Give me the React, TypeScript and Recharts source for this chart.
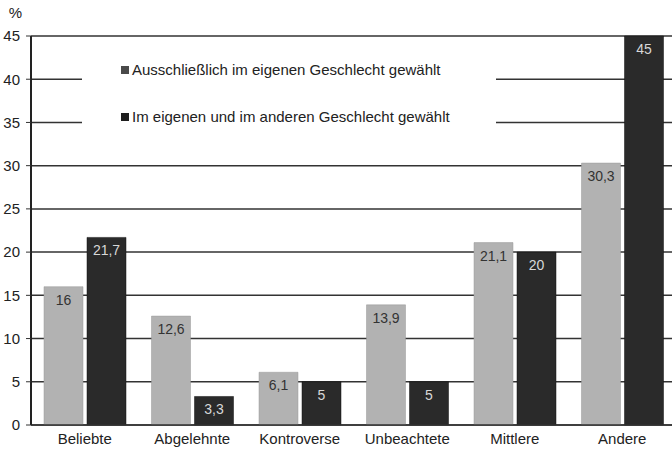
import React from 'react';
import { BarChart, Bar, XAxis, YAxis, CartesianGrid, Legend, LabelList } from 'recharts';

const categories = ['Beliebte', 'Abgelehnte', 'Kontroverse', 'Unbeachtete', 'Mittlere', 'Andere'];
const ausschliesslich = [16, 12.6, 6.1, 13.9, 21.1, 30.3];
const beide = [21.7, 3.3, 5, 5, 20, 45];
const yTicks = [0, 5, 10, 15, 20, 25, 30, 35, 40, 45];
const boundaryTicks = [1, 2, 3, 4, 5];
const seriesNames = ['Ausschließlich im eigenen Geschlecht gewählt', 'Im eigenen und im anderen Geschlecht gewählt'];

const data = categories.map((c, i) => ({ name: c, pos: i + 0.5, a: ausschliesslich[i], b: beide[i] }));

const FONT = '"Liberation Sans", Arial, Helvetica, sans-serif';
const LIGHT = '#b2b2b2';
const DARK = '#2a2a2a';
const fmt = (v: any) => String(v).replace('.', ',');

const LegendBox = () => (
  <div style={{ position: 'relative', width: 414, height: 108, background: '#fff', fontFamily: FONT, fontSize: 15, color: '#222' }}>
    {seriesNames.map((n, i) => (
      <div key={n} style={{ position: 'absolute', left: 39, top: 16 + i * 47, display: 'flex', alignItems: 'center', whiteSpace: 'nowrap' }}>
        <span style={{ display: 'inline-block', width: 8, height: 8, background: i === 0 ? '#4a4a4a' : '#1e1e1e', marginRight: 3 }} />
        <span>{n}</span>
      </div>
    ))}
  </div>
);

export default function App() {
  return (
    <div style={{ position: 'absolute', left: 0, top: 0, width: 672, height: 452, overflow: 'hidden', background: '#fff' }}>
      <BarChart width={680} height={452} data={data} margin={{ top: 36, right: 4, bottom: 0, left: 0 }} barGap={4} barSize={39}>
        <CartesianGrid vertical={false} stroke="#333" strokeWidth={1.5} horizontalValues={yTicks} />
        <XAxis xAxisId="t" type="number" dataKey="pos" domain={[0, 6]} ticks={boundaryTicks} height={0} axisLine={false} tick={false} tickLine={{ stroke: '#333' }} tickSize={4} allowDataOverflow />
        <XAxis xAxisId="c" dataKey="name" height={27} axisLine={{ stroke: '#333', strokeWidth: 1.5 }} tickLine={false} tickSize={0} tickMargin={8} tick={{ fill: '#222', fontSize: 15, fontFamily: FONT }} interval={0} />
        <YAxis width={31} domain={[0, 45]} ticks={yTicks} interval={0} axisLine={{ stroke: '#222', strokeWidth: 2 }} tickLine={{ stroke: '#333' }} tickSize={5} tickMargin={6} tick={{ fill: '#222', fontSize: 15, fontFamily: FONT }} label={{ value: '%', position: 'top', offset: 18, fill: '#222', fontSize: 15, fontFamily: FONT }} />
        <Legend layout="vertical" align="center" verticalAlign="middle" content={<LegendBox />} wrapperStyle={{ left: 82, top: 45, width: 414, height: 108 }} />
        <Bar xAxisId="c" dataKey="a" name={seriesNames[0]} fill={LIGHT} stroke="#999" strokeWidth={0.5} isAnimationActive={false}>
          <LabelList dataKey="a" position="insideTop" offset={8} formatter={fmt} fill="#333" fontSize={14} fontFamily={FONT} />
        </Bar>
        <Bar xAxisId="c" dataKey="b" name={seriesNames[1]} fill={DARK} stroke="#111" strokeWidth={0.5} isAnimationActive={false}>
          <LabelList dataKey="b" position="insideTop" offset={8} formatter={fmt} fill="#d8d8d8" fontSize={14} fontFamily={FONT} />
        </Bar>
      </BarChart>
    </div>
  );
}
